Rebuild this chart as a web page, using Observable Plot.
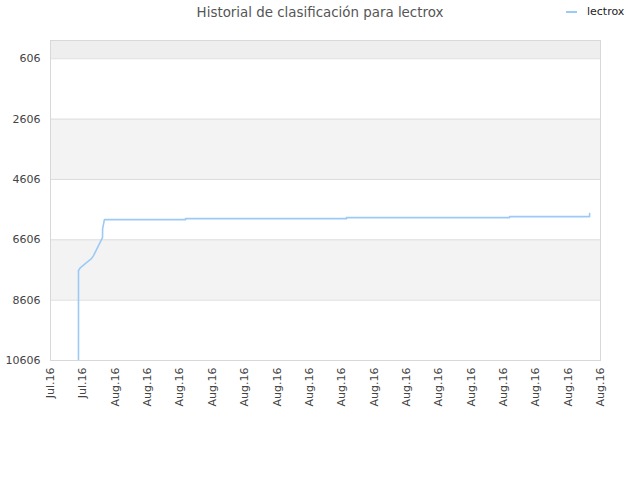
<!DOCTYPE html>
<html>
<head>
<meta charset="utf-8">
<script src="https://cdn.jsdelivr.net/npm/d3@7"></script>
<script src="https://cdn.jsdelivr.net/npm/@observablehq/plot@0.6"></script>
<style>
  body { margin: 0; background: #fff; font-family: "DejaVu Sans", sans-serif; }
  #wrap { position: relative; width: 640px; height: 480px; }
  #title { height: 28px; line-height: 26px; text-align: center; font-size: 13.4px; color: #555; padding-left: 0px; }
  #legend { position: absolute; top: 5px; left: 566px; font-size: 11px; color: #222; display: flex; align-items: center; }
  #legend span.sw { display: inline-block; width: 11px; height: 2px; background: #9ccaf5; margin-right: 10px; }
</style>
</head>
<body>
<div id="wrap">
  <div id="title">Historial de clasificación para lectrox</div>
  <div id="legend"><span class="sw"></span>lectrox</div>
  <div id="chart"></div>
</div>
<script>
const seriesName = "lectrox";
const times = [
  "2016-07-29T17:30Z", "2016-07-29T17:31Z", "2016-07-29T20:30Z", "2016-07-30T05:25Z",
  "2016-07-30T12:50Z", "2016-07-30T15:50Z", "2016-07-30T20:15Z", "2016-07-31T00:40Z",
  "2016-07-31T05:10Z", "2016-07-31T05:20Z", "2016-07-31T08:00Z", "2016-08-05T08:20Z",
  "2016-08-05T08:21Z", "2016-08-15T07:10Z", "2016-08-15T07:11Z", "2016-08-25T09:05Z",
  "2016-08-25T09:06Z", "2016-08-30T07:50Z", "2016-08-30T07:51Z"
];
const ranks = [
  10606, 7625, 7525, 7360,
  7230, 7130, 6930, 6730,
  6533, 6235, 5937, 5937,
  5904, 5904, 5870, 5870,
  5837, 5837, 5738
];
const yTicks = [606, 2606, 4606, 6606, 8606, 10606];
const xTicks = [
  "2016-07-28", "2016-07-30", "2016-08-01", "2016-08-03", "2016-08-05", "2016-08-07",
  "2016-08-09", "2016-08-11", "2016-08-13", "2016-08-15", "2016-08-17", "2016-08-19",
  "2016-08-21", "2016-08-23", "2016-08-25", "2016-08-27", "2016-08-29", "2016-08-31"
];
const bandStarts = [0, 2606, 6606];
const bandEnds = [606, 4606, 8606];
const bandFills = ["#eeeeee", "#f3f3f3", "#f3f3f3"];

const data = times.map((t, i) => ({date: new Date(t), rank: ranks[i]}));
const bands = bandStarts.map((s, i) => ({y1: s, y2: bandEnds[i], fill: bandFills[i]}));
const xTickDates = xTicks.map(d => new Date(d + "T00:00Z"));
const fmt = d3.utcFormat("%b.%y");

const chart = Plot.plot({
  width: 640,
  height: 452,
  marginTop: 12,
  marginBottom: 120,
  marginLeft: 50,
  marginRight: 40,
  style: {fontFamily: "DejaVu Sans, sans-serif", fontSize: "11px", color: "#444", background: "#fff"},
  x: {type: "utc", domain: [xTickDates[0], xTickDates[xTickDates.length - 1]]},
  y: {domain: [10606, 0]},
  marks: [
    Plot.rect(bands, {x1: () => xTickDates[0], x2: () => xTickDates[xTickDates.length - 1], y1: "y1", y2: "y2", fill: "fill"}),
    Plot.ruleY(yTicks, {stroke: "#dddddd", strokeWidth: 1}),
    Plot.frame({stroke: "#d8d8d8"}),
    Plot.axisY({ticks: yTicks, tickSize: 0, tickPadding: 10, tickFormat: d => String(d), fill: "#444"}),
    Plot.axisX({ticks: xTickDates, tickSize: 0, tickPadding: 7, tickRotate: -90, tickFormat: fmt, fill: "#444"}),
    Plot.line(data, {x: "date", y: "rank", stroke: "#9ccaf5", strokeWidth: 1.6, clip: true})
  ]
});
document.getElementById("chart").appendChild(chart);
</script>
</body>
</html>
